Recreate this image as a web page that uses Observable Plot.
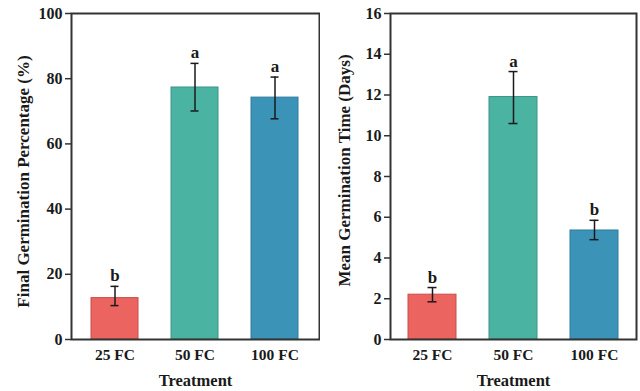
<!DOCTYPE html>
<html>
<head>
<meta charset="utf-8">
<script src="https://cdn.jsdelivr.net/npm/d3@7"></script>
<script src="https://cdn.jsdelivr.net/npm/@observablehq/plot@0.6"></script>
<style>
  html, body { margin: 0; padding: 0; background: #fff; }
  #wrap { display: flex; width: 640px; height: 391px; }
</style>
</head>
<body>
<div id="wrap"></div>
<script>
const treatments = ["25 FC", "50 FC", "100 FC"];
const barColors = ["#EB6460", "#4BB3A1", "#3B93B8"];
const barEdges = ["#C94E4B", "#3A9585", "#2F7A9C"];

const fgpMean = [12.7, 77.3, 74.2];
const fgpLow = [10.4, 70.1, 67.7];
const fgpHigh = [16.3, 84.7, 80.5];
const fgpLetters = ["b", "a", "a"];
const fgpTicks = [0, 20, 40, 60, 80, 100];

const mgtMean = [2.2, 11.9, 5.35];
const mgtLow = [1.85, 10.6, 4.9];
const mgtHigh = [2.55, 13.15, 5.85];
const mgtLetters = ["b", "a", "b"];
const mgtTicks = [0, 2, 4, 6, 8, 10, 12, 14, 16];

function makeChart({mean, low, high, letters, ticks, ymax, ylabel, marginLeft, marginRight, paddingOuter, labelOffset}) {
  const rows = treatments.map((t, i) => ({
    t, mean: mean[i], low: low[i], high: high[i], letter: letters[i],
    fill: barColors[i], edge: barEdges[i]
  }));
  return Plot.plot({
    width: 320,
    height: 391,
    marginLeft,
    marginRight,
    marginTop: 13,
    marginBottom: 52,
    style: {fontFamily: "'Liberation Serif', 'Times New Roman', serif", fontSize: "16px", fontWeight: "bold", color: "#1a1a1a", background: "#fff"},
    x: {domain: treatments, paddingInner: 0.41, paddingOuter},
    y: {domain: [0, ymax]},
    marks: [
      Plot.barY(rows, {x: "t", y: "mean", fill: "fill", stroke: "edge", strokeWidth: 1}),
      Plot.ruleX(rows, {x: "t", y1: "low", y2: "high", stroke: "#1a1a1a", strokeWidth: 1.5}),
      Plot.tickY(rows, {x: "t", y: "low", stroke: "#1a1a1a", strokeWidth: 1.5, insetLeft: 19.5, insetRight: 19.5}),
      Plot.tickY(rows, {x: "t", y: "high", stroke: "#1a1a1a", strokeWidth: 1.5, insetLeft: 19.5, insetRight: 19.5}),
      Plot.text(rows, {x: "t", y: "high", text: "letter", dy: -5, lineAnchor: "bottom", fontSize: 17, fontWeight: "bold", fill: "#1a1a1a"}),
      Plot.frame({stroke: "#333", strokeWidth: 2}),
      Plot.axisY({ticks, tickSize: 6, tickPadding: 3, tickFormat: d => d, fontSize: 16, fontWeight: "bold", stroke: "#333", strokeWidth: 1.5,
        label: ylabel, labelAnchor: "center", labelOffset, labelArrow: "none"}),
      Plot.axisX({tickSize: 0, tickPadding: 9, fontSize: 15.5, fontWeight: "bold",
        label: "Treatment", labelAnchor: "center", labelOffset: 46, labelArrow: "none"})
    ]
  });
}

const wrap = document.getElementById("wrap");
const c1 = makeChart({mean: fgpMean, low: fgpLow, high: fgpHigh, letters: fgpLetters, ticks: fgpTicks, ymax: 100,
  ylabel: "Final Germination Percentage (%)", marginLeft: 71, marginRight: 1, paddingOuter: 0.25, labelOffset: 55});
const c2 = makeChart({mean: mgtMean, low: mgtLow, high: mgtHigh, letters: mgtLetters, ticks: mgtTicks, ymax: 16,
  ylabel: "Mean Germination Time (Days)", marginLeft: 70, marginRight: 4, paddingOuter: 0.21, labelOffset: 53});
wrap.appendChild(c1);
wrap.appendChild(c2);

// enlarge axis titles and nudge them along their axes
function tweakLabels(svg, ydx) {
  svg.querySelectorAll("[aria-label='y-axis label'], [aria-label='x-axis label']").forEach(g => {
    g.setAttribute("font-size", 17);
    g.querySelectorAll("text").forEach(t => t.setAttribute("font-size", 17));
  });
  svg.querySelectorAll("[aria-label='x-axis label'] text").forEach(t => t.setAttribute("font-size", 16.5));
  svg.querySelectorAll("[aria-label='y-axis label'] text").forEach(t => t.setAttribute("dx", ydx));
}
tweakLabels(c1, -5);
tweakLabels(c2, 6);
</script>
</body>
</html>
